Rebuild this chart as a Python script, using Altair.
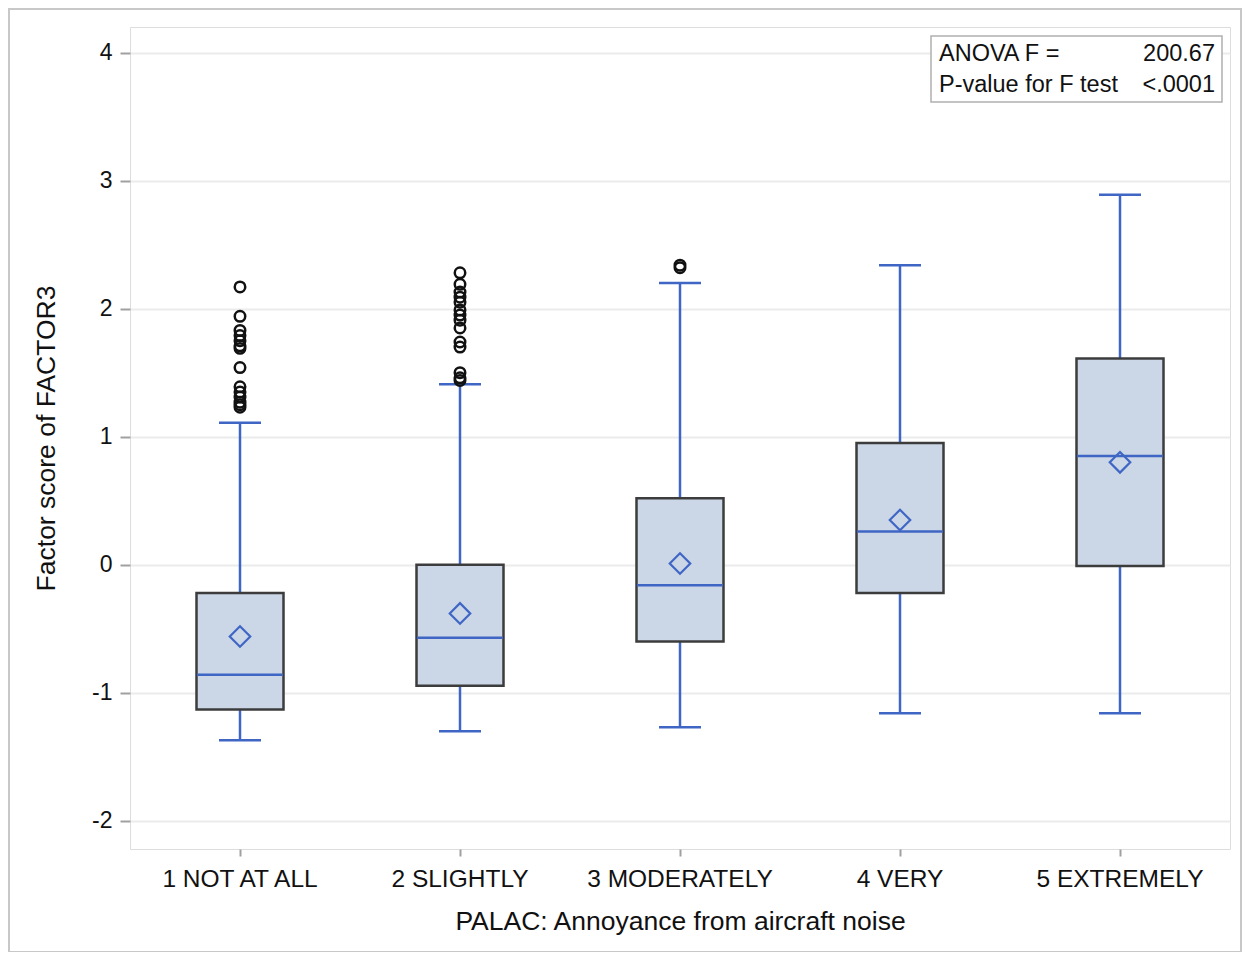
import altair as alt
import pandas as pd

categories = ["1 NOT AT ALL", "2 SLIGHTLY", "3 MODERATELY", "4 VERY", "5 EXTREMELY"]
whisker_low = [-1.37, -1.30, -1.27, -1.16, -1.16]
q1 = [-1.13, -0.945, -0.60, -0.22, -0.01]
median = [-0.86, -0.57, -0.16, 0.26, 0.85]
q3 = [-0.22, 0.0, 0.52, 0.95, 1.61]
whisker_high = [1.11, 1.41, 2.20, 2.34, 2.89]
means = [-0.56, -0.38, 0.01, 0.35, 0.80]

out_g1 = [2.17, 1.94, 1.83, 1.79, 1.75, 1.71, 1.69, 1.54, 1.39, 1.35, 1.31, 1.27, 1.25, 1.23]
out_g2 = [2.28, 2.19, 2.13, 2.09, 2.05, 1.99, 1.95, 1.91, 1.85, 1.74, 1.70, 1.50, 1.46, 1.44]
out_g3 = [2.32, 2.34]

anova_lines = ["ANOVA F =", "P-value for F test"]
anova_values = ["200.67", "<.0001"]

box_df = pd.DataFrame({
    "cat": categories, "low": whisker_low, "q1": q1, "med": median,
    "q3": q3, "high": whisker_high, "mean": means,
})
out_df = pd.DataFrame({
    "cat": [categories[0]] * len(out_g1) + [categories[1]] * len(out_g2) + [categories[2]] * len(out_g3),
    "v": out_g1 + out_g2 + out_g3,
})
stat_df = pd.DataFrame({"label": anova_lines, "value": anova_values})

FONT = "Liberation Sans"
BLUE = "#3F66C4"
W, H = 1100, 822

xenc = alt.X("cat:N", sort=categories,
             scale=alt.Scale(paddingInner=0, paddingOuter=0),
             axis=alt.Axis(title="PALAC: Annoyance from aircraft noise", labelAngle=0,
                           domain=False, tickColor="#A0A0A0", tickSize=7, tickWidth=2,
                           labelFontSize=24.5, labelPadding=11, labelColor="#111111",
                           labelLimit=400,
                           titleFontSize=26.5, titleFontWeight="normal", titlePadding=18,
                           titleColor="#111111"))
yscale = alt.Scale(domain=[-2.22, 4.2], nice=False, zero=False)
yaxis = alt.Axis(title="Factor score of FACTOR3", values=[-2, -1, 0, 1, 2, 3, 4],
                 labelExpr="'' + datum.value",
                 domain=False, grid=True, gridColor="#EBEBEB", gridWidth=2,
                 tickColor="#A0A0A0", tickSize=10, tickWidth=2,
                 labelFontSize=23, labelPadding=8, labelColor="#111111",
                 titleFontSize=26.5, titleFontWeight="normal", titlePadding=31,
                 titleColor="#111111")

base = alt.Chart(box_df)

whisk_lo = base.mark_rule(color=BLUE, strokeWidth=2.5).encode(
    x=xenc, y=alt.Y("low:Q", scale=yscale, axis=yaxis), y2="q1:Q")
whisk_hi = base.mark_rule(color=BLUE, strokeWidth=2.5).encode(
    x=xenc, y=alt.Y("q3:Q", scale=yscale, axis=yaxis), y2="high:Q")
box = base.mark_bar(size=87, fill="#CBD6E6", stroke="#3C3C3C", strokeWidth=2.5).encode(
    x=xenc, y=alt.Y("q1:Q", scale=yscale, axis=yaxis), y2="q3:Q")
med = base.mark_tick(size=86, thickness=2.5, color=BLUE, opacity=1).encode(
    x=xenc, y=alt.Y("med:Q", scale=yscale, axis=yaxis))
cap_lo = base.mark_tick(size=42, thickness=2.5, color=BLUE, opacity=1).encode(
    x=xenc, y=alt.Y("low:Q", scale=yscale, axis=yaxis))
cap_hi = base.mark_tick(size=42, thickness=2.5, color=BLUE, opacity=1).encode(
    x=xenc, y=alt.Y("high:Q", scale=yscale, axis=yaxis))
mean_pts = base.mark_point(shape="diamond", size=420, filled=False, color=BLUE,
                           strokeWidth=2.2, opacity=1).encode(
    x=xenc, y=alt.Y("mean:Q", scale=yscale, axis=yaxis))
outliers = alt.Chart(out_df).mark_point(shape="circle", size=110, filled=False,
                                        color="#111111", strokeWidth=2.5, opacity=1).encode(
    x=xenc, y=alt.Y("v:Q", scale=yscale, axis=yaxis))

stat_row0 = stat_df.iloc[[0]]
stat_row1 = stat_df.iloc[[1]]

inset_box = alt.Chart(stat_row0).mark_rect(fill="white", stroke="#B0B0B0", strokeWidth=1.5).encode(
    x=alt.value(801), x2=alt.value(1092), y=alt.value(9), y2=alt.value(75))


def inset_text(df, ypix):
    lab = alt.Chart(df).mark_text(align="left", baseline="alphabetic", fontSize=23.5,
                                  font=FONT, color="#111111").encode(
        x=alt.value(809), y=alt.value(ypix), text="label:N")
    val = alt.Chart(df).mark_text(align="right", baseline="alphabetic", fontSize=23.5,
                                  font=FONT, color="#111111").encode(
        x=alt.value(1085), y=alt.value(ypix), text="value:N")
    return [lab, val]


texts = inset_text(stat_row0, 34) + inset_text(stat_row1, 65)

outer = alt.Chart(stat_row0).mark_rect(fill=None, stroke="#C8C8C8", strokeWidth=2).encode(
    x=alt.value(-121), x2=alt.value(1111), y=alt.value(-18), y2=alt.value(925))

chart = alt.layer(
    outer, whisk_lo, whisk_hi, box, med, cap_lo, cap_hi, mean_pts, outliers,
    inset_box, *texts
).properties(
    width=W, height=H,
    autosize=alt.AutoSizeParams(type="none"),
    padding={"left": 122, "top": 19, "right": 12, "bottom": 103},
).configure_view(stroke="#A8A8A8", strokeWidth=2).configure(
    font=FONT
)

chart.save("out.html", embed_options={"renderer": "svg", "actions": False})
